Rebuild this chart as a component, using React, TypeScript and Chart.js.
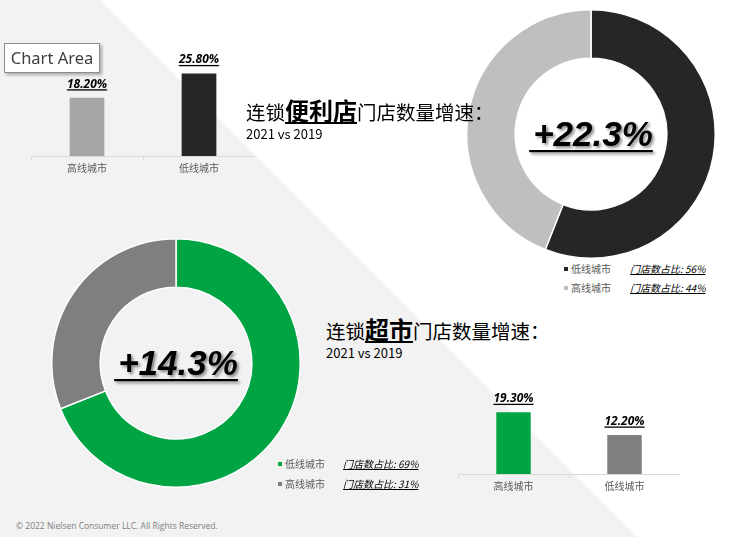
import React, { useEffect, useRef } from 'react';
import { Chart, registerables } from 'chart.js';

Chart.register(...registerables);

// ---- data ----
const convCategories = ['高线城市', '低线城市'];
const convGrowth = [18.2, 25.8];
const convBarColors = ['#a6a6a6', '#262626'];
const convShareLabels = ['低线城市', '高线城市'];
const convShare = [56, 44];
const convShareColors = ['#262626', '#bfbfbf'];
const convTotal = '+22.3%';

const superCategories = ['高线城市', '低线城市'];
const superGrowth = [19.3, 12.2];
const superBarColors = ['#00a443', '#7f7f7f'];
const superShareLabels = ['低线城市', '高线城市'];
const superShare = [69, 31];
const superShareColors = ['#00a443', '#7f7f7f'];
const superTotal = '+14.3%';

const FONT_CJK = '"Noto Sans CJK SC", "Noto Sans", sans-serif';

const barLabelPlugin = {
  id: 'barLabels',
  afterDatasetsDraw(chart: any) {
    const ctx = chart.ctx;
    const meta = chart.getDatasetMeta(0);
    const data = chart.data.datasets[0].data;
    ctx.save();
    ctx.font = 'italic bold 12px "Open Sans", sans-serif';
    ctx.fillStyle = '#000000';
    ctx.textAlign = 'center';
    ctx.textBaseline = 'alphabetic';
    meta.data.forEach((el: any, i: number) => {
      const txt = Number(data[i]).toFixed(2) + '%';
      const w = ctx.measureText(txt).width;
      ctx.fillText(txt, el.x, el.y - 10);
      ctx.fillRect(el.x - w / 2, el.y - 8.5, w, 1.3);
    });
    ctx.restore();
  },
};

function makeCenterPlugin(text: string) {
  return {
    id: 'centerText',
    afterDraw(chart: any) {
      const ctx = chart.ctx;
      const a = chart.chartArea;
      const cx = (a.left + a.right) / 2 + 2;
      const cy = (a.top + a.bottom) / 2;
      ctx.save();
      ctx.font = 'italic bold 35px "Liberation Sans", Arial, sans-serif';
      ctx.textAlign = 'center';
      ctx.textBaseline = 'alphabetic';
      ctx.shadowColor = 'rgba(0,0,0,0.45)';
      ctx.shadowBlur = 3;
      ctx.shadowOffsetX = 2;
      ctx.shadowOffsetY = 2;
      ctx.fillStyle = '#000000';
      const w = ctx.measureText(text).width;
      ctx.fillText(text, cx, cy + 12);
      ctx.fillRect(cx - w / 2 - 4, cy + 16, w + 4, 2.2);
      ctx.restore();
    },
  };
}

function BarChart({ categories, values, colors, left, top, width }: any) {
  const ref = useRef<HTMLCanvasElement | null>(null);
  useEffect(() => {
    const chart = new Chart(ref.current as HTMLCanvasElement, {
      type: 'bar',
      data: {
        labels: categories,
        datasets: [
          {
            data: values,
            backgroundColor: colors,
            barPercentage: 0.31,
            categoryPercentage: 1,
          },
        ],
      },
      options: {
        animation: false,
        responsive: false,
        maintainAspectRatio: false,
        layout: { padding: { top: 20, left: 0, right: 0, bottom: 0 } },
        plugins: { legend: { display: false }, tooltip: { enabled: false } },
        scales: {
          x: {
            grid: {
              display: true,
              drawOnChartArea: false,
              offset: true,
              tickLength: 4,
              color: '#d9d9d9',
            },
            border: { display: true, color: '#d9d9d9' },
            ticks: {
              color: '#595959',
              font: { family: FONT_CJK, size: 10 },
              padding: 2,
              maxRotation: 0,
            },
            afterFit: (s: any) => {
              s.height = 24;
            },
          },
          y: { display: false, min: 0, max: 30 },
        },
      } as any,
      plugins: [barLabelPlugin],
    });
    return () => chart.destroy();
  }, []);
  return (
    <canvas
      ref={ref}
      width={width}
      height={140}
      style={{ position: 'absolute', left, top, width, height: 140 }}
    />
  );
}

function Donut({ values, colors, total, left, top, size }: any) {
  const ref = useRef<HTMLCanvasElement | null>(null);
  useEffect(() => {
    const chart = new Chart(ref.current as HTMLCanvasElement, {
      type: 'doughnut',
      data: {
        datasets: [
          {
            data: values,
            backgroundColor: colors,
            borderColor: '#ffffff',
            borderWidth: 1.5,
          },
        ],
      },
      options: {
        animation: false,
        responsive: false,
        maintainAspectRatio: false,
        cutout: '61%',
        layout: { padding: 0 },
        plugins: { legend: { display: false }, tooltip: { enabled: false } },
      } as any,
      plugins: [makeCenterPlugin(total)],
    });
    return () => chart.destroy();
  }, []);
  return (
    <canvas
      ref={ref}
      width={size}
      height={size}
      style={{ position: 'absolute', left, top, width: size, height: size }}
    />
  );
}

function ShareLegend({ labels, values, colors, left, top, gap, valueOffset }: any) {
  return (
    <>
      {labels.map((l: string, i: number) => (
        <div
          key={l}
          style={{
            position: 'absolute',
            left,
            top: top + i * gap,
            height: 12,
            width: 160,
            fontFamily: FONT_CJK,
            fontSize: 10,
            lineHeight: '12px',
            whiteSpace: 'nowrap',
          }}
        >
          <span
            style={{
              position: 'absolute',
              left: 0,
              top: 4,
              width: 4,
              height: 4,
              background: colors[i],
            }}
          />
          <span style={{ position: 'absolute', left: 7, top: 0, color: '#595959' }}>{l}</span>
          <span
            style={{
              position: 'absolute',
              left: valueOffset,
              top: 0,
              color: '#000',
              fontStyle: 'italic',
              textDecoration: 'underline',
            }}
          >
            门店数占比: {values[i]}%
          </span>
        </div>
      ))}
    </>
  );
}

function Title({ left, top, pre, bold, post }: any) {
  return (
    <div style={{ position: 'absolute', left, top, fontFamily: FONT_CJK, color: '#000', whiteSpace: 'nowrap' }}>
      <div style={{ fontSize: 19.5, lineHeight: '26px' }}>
        <span>{pre}</span>
        <span style={{ fontSize: 24, fontWeight: 700, textDecoration: 'underline', textUnderlineOffset: 2 }}>{bold}</span>
        <span>{post}</span>
      </div>
      <div style={{ fontSize: 13, lineHeight: '16px', marginTop: 1 }}>2021 vs 2019</div>
    </div>
  );
}

export default function App() {
  return (
    <div
      style={{
        position: 'absolute',
        left: 0,
        top: 0,
        width: 731,
        height: 537,
        background: '#ffffff',
        overflow: 'hidden',
      }}
    >
      <div
        style={{
          position: 'absolute',
          left: 0,
          top: 0,
          width: 731,
          height: 537,
          background: '#f2f2f2',
          clipPath: 'polygon(0px 0px, 100px 0px, 637px 537px, 0px 537px)',
        }}
      />

      <BarChart categories={convCategories} values={convGrowth} colors={convBarColors} left={31} top={40} width={224} />
      <Donut values={convShare} colors={convShareColors} total={convTotal} left={466} top={9} size={250} />
      <ShareLegend labels={convShareLabels} values={convShare} colors={convShareColors} left={564} top={263} gap={19} valueOffset={66} />
      <Title left={246} top={97} pre="连锁" bold="便利店" post="门店数量增速：" />

      <Donut values={superShare} colors={superShareColors} total={superTotal} left={51} top={238} size={250} />
      <ShareLegend labels={superShareLabels} values={superShare} colors={superShareColors} left={278} top={458} gap={20} valueOffset={65} />
      <Title left={326} top={316} pre="连锁" bold="超市" post="门店数量增速：" />
      <BarChart categories={superCategories} values={superGrowth} colors={superBarColors} left={458} top={358} width={222} />

      <div
        style={{
          position: 'absolute',
          left: 4,
          top: 43,
          width: 94,
          height: 28,
          border: '1px solid #8c8c8c',
          background: '#ffffff',
          boxShadow: '2px 2px 3px rgba(0,0,0,0.3)',
          fontFamily: '"Noto Sans", sans-serif',
          fontSize: 16.5,
          lineHeight: '28px',
          color: '#404040',
          textAlign: 'center',
        }}
      >
        Chart Area
      </div>

      <div
        style={{
          position: 'absolute',
          left: 16,
          top: 520,
          fontFamily: '"Open Sans", sans-serif',
          fontSize: 8.5,
          color: '#7f7f7f',
          whiteSpace: 'nowrap',
        }}
      >
        © 2022 Nielsen Consumer LLC. All Rights Reserved.
      </div>
    </div>
  );
}
